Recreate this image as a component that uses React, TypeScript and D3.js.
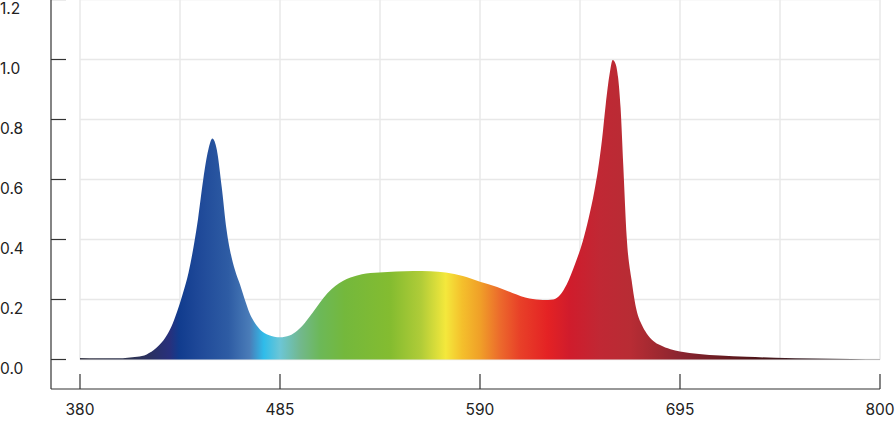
import React from "react";
import * as d3 from "d3";

const wavelengths = [380, 390, 400, 405, 410, 415, 420, 425, 428, 431, 434, 437, 440, 442, 444.7, 447.4, 449.5, 451.8, 454.4, 457, 459.6, 462, 464, 466.5, 469, 472, 475, 479, 485, 490, 494, 498, 502, 506, 510, 514, 518, 522, 528, 537, 546, 555, 564, 572, 581, 590, 599, 607, 616, 623, 628.5, 632, 635.5, 640, 644, 647, 650, 652, 654, 656, 658, 659.7, 661.2, 662.5, 663.8, 665.2, 667, 669.6, 672.2, 675, 677.5, 681, 684.5, 690, 695, 705, 716, 730, 745, 766, 785, 800];
const intensity = [0.005, 0.004, 0.004, 0.006, 0.009, 0.017, 0.038, 0.075, 0.11, 0.16, 0.22, 0.29, 0.39, 0.47, 0.6, 0.7, 0.737, 0.7, 0.575, 0.43, 0.34, 0.285, 0.25, 0.2, 0.155, 0.12, 0.097, 0.082, 0.074, 0.08, 0.096, 0.122, 0.155, 0.19, 0.222, 0.245, 0.262, 0.273, 0.284, 0.29, 0.293, 0.295, 0.294, 0.29, 0.278, 0.259, 0.242, 0.222, 0.203, 0.198, 0.2, 0.215, 0.25, 0.32, 0.395, 0.47, 0.56, 0.635, 0.73, 0.85, 0.95, 0.998, 0.985, 0.94, 0.84, 0.65, 0.41, 0.264, 0.164, 0.115, 0.087, 0.062, 0.048, 0.034, 0.027, 0.018, 0.013, 0.009, 0.006, 0.003, 0.002, 0.001];

const xTicks = [380, 485, 590, 695, 800];
const xGrid = [380, 432.5, 485, 537.5, 590, 642.5, 695, 747.5, 800];
const yTicks = [0, 0.2, 0.4, 0.6, 0.8, 1.0, 1.2];

const colorWl = [380, 405, 417, 427, 432, 442, 458, 469, 476.5, 485, 495.5, 506, 519, 543, 559, 572, 580.5, 590, 600.5, 611, 625.5, 637, 653, 669, 685, 695.5, 716.5, 737, 758, 800];
const colorHex = ["#3a3a48", "#2e3350", "#2a3062", "#28307c", "#113c8e", "#1e4898", "#2e5ca4", "#4a7cb8", "#2fbcea", "#6cc6d6", "#72b88e", "#6cb858", "#74b83c", "#84bc30", "#b0cc38", "#f4e83c", "#f4c02c", "#f0a028", "#ec6a2c", "#e84028", "#e42224", "#d01c2c", "#c02834", "#b82c34", "#9c2830", "#8a2430", "#6a1c22", "#4a1418", "#3a2026", "#333333"];

export default function App() {
  const W = 896, H = 422;
  const x = d3.scaleLinear().domain([380, 800]).range([80, 880]);
  const y = d3.scaleLinear().domain([0, 1.2]).range([359.5, -0.5]);
  const data = wavelengths.map((w, i) => [w, intensity[i]] as [number, number]);
  const area = d3.area<[number, number]>()
    .x(d => x(d[0]))
    .y0(y(0))
    .y1(d => y(d[1]))
    .curve(d3.curveMonotoneX);
  const axisX = 51;
  const axisY = 389;
  const font = "Inter, 'Open Sans', sans-serif";
  return (
    <svg width={W} height={H} style={{ position: "absolute", left: 0, top: 0, background: "#fff" }}>
      <defs>
        <linearGradient id="spec" gradientUnits="userSpaceOnUse" x1={x(380)} x2={x(800)} y1={0} y2={0}>
          {colorWl.map((w, i) => (
            <stop key={i} offset={(w - 380) / 420} stopColor={colorHex[i]} />
          ))}
        </linearGradient>
      </defs>
      {yTicks.map(t => (
        <line key={"gy" + t} x1={x(380)} x2={x(800)} y1={y(t)} y2={y(t)} stroke="#e8e8e8" strokeWidth={1.5} />
      ))}
      {xGrid.map(t => (
        <line key={"gx" + t} x1={x(t)} x2={x(t)} y1={y(1.2)} y2={y(0)} stroke="#e8e8e8" strokeWidth={1.5} />
      ))}
      <path d={area(data) || ""} fill="url(#spec)" />
      <line x1={axisX} x2={axisX} y1={0} y2={axisY} stroke="#333" strokeWidth={1.2} />
      <line x1={axisX} x2={x(800)} y1={axisY} y2={axisY} stroke="#333" strokeWidth={1.2} />
      {yTicks.map(t => (
        <g key={"yt" + t}>
          <line x1={axisX} x2={66} y1={y(t)} y2={y(t)} stroke="#333" strokeWidth={1.2} />
          <text x={0} y={y(t) + 14} fontFamily={font} fontSize={15.5} fill="#222">{t.toFixed(1)}</text>
        </g>
      ))}
      {xTicks.map(t => (
        <g key={"xt" + t}>
          <line x1={x(t)} x2={x(t)} y1={axisY} y2={374} stroke="#333" strokeWidth={1.2} />
          <text x={x(t)} y={415} textAnchor="middle" fontFamily={font} fontSize={15.5} fill="#222">{t}</text>
        </g>
      ))}
    </svg>
  );
}
